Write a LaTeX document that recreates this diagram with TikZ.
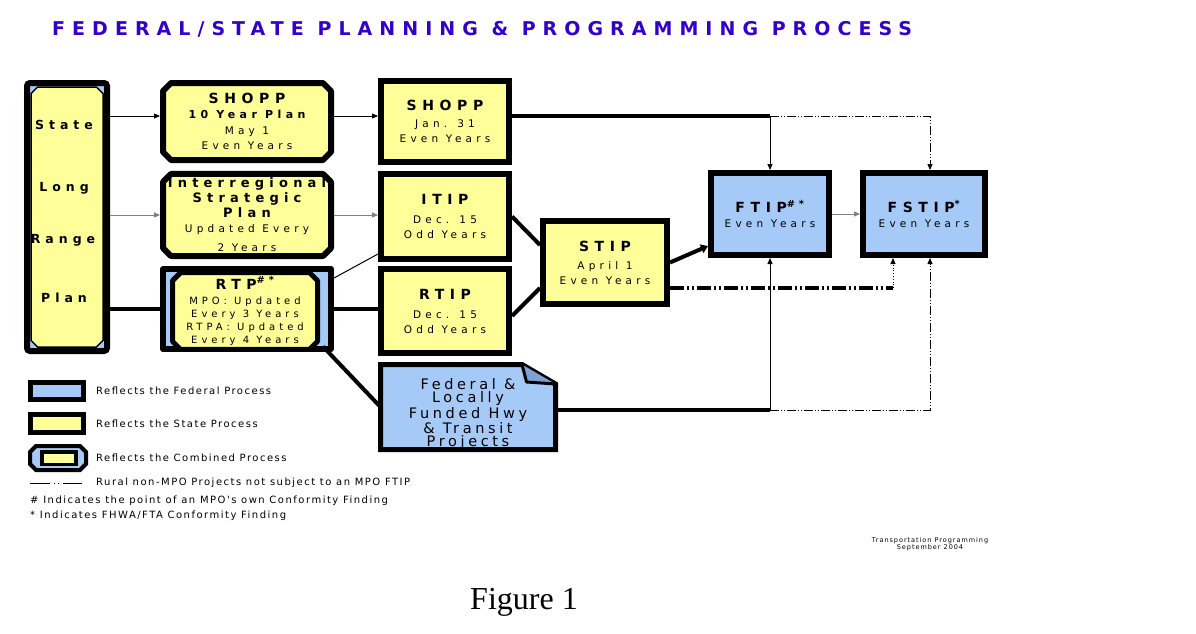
\documentclass[tikz,border=0pt]{standalone}
\usepackage{fontspec}
\setmainfont{DejaVu Sans}[LetterSpace=40]
\newfontfamily\titlefont{DejaVu Sans}[LetterSpace=37]
\newfontfamily\fedfont{DejaVu Sans}[LetterSpace=25]
\newfontfamily\legfont{DejaVu Sans}[LetterSpace=15]
\newfontfamily\figfont{Liberation Serif}
\usetikzlibrary{shapes.misc,arrows.meta,positioning,backgrounds}

\definecolor{yelfill}{RGB}{255,255,153}
\definecolor{bluefill}{RGB}{166,202,247}
\definecolor{folddark}{RGB}{128,160,212}
\definecolor{titleblue}{RGB}{51,0,204}

\newcommand\fhead{\fontsize{14}{15}\selectfont\bfseries}
\newcommand\fsub{\fontsize{11}{15}\selectfont\bfseries}
\newcommand\fbody{\fontsize{10.5}{15}\selectfont}

\begin{document}
\begin{tikzpicture}[x=1pt, y=-1pt,
  stbox/.style={draw, line width=6pt, fill=yelfill, minimum width=128pt, align=center, inner sep=0pt, font=\fbody},
  chambox/.style={draw, line width=6pt, chamfered rectangle, chamfered rectangle xsep=4pt, chamfered rectangle ysep=4pt, line join=round, align=center, inner sep=0pt, minimum width=168pt, font=\fbody},
  slrptext/.style={font=\fontsize{12.5}{14}\selectfont\bfseries, inner sep=0pt},
  legtext/.style={font=\legfont\fontsize{10}{12}\selectfont, inner sep=0pt, anchor=west},
  link/.style={line width=1pt, -{Triangle[length=6pt,width=5pt]}},
  graylink/.style={link, draw=black!50},
  heavy/.style={line width=4pt},
  heavyarrow/.style={heavy, -{Triangle[length=7pt,width=9pt]}},
  rural/.style={line width=0.8pt, dash pattern=on 9pt off 2pt on 1pt off 2pt on 1pt off 2pt},
  ruralarrow/.style={rural, -{Triangle[length=6pt,width=5pt]}},
  heavydash/.style={line width=4.5pt, dash pattern=on 14pt off 3pt on 2pt off 3pt on 2pt off 3pt}
]
\useasboundingbox (0,0) rectangle (1196,634);
\begin{scope}[on background layer]
\fill[white] (0,0) rectangle (1196,634);
\end{scope}

\node[font=\titlefont\fontsize{19}{21}\selectfont\bfseries, text=titleblue, anchor=west, inner sep=0pt] (title) at (52,29) {FEDERAL/STATE PLANNING \& PROGRAMMING PROCESS};

% state long range plan
\node[draw, line width=6pt, rounded corners=3pt, fill=bluefill, minimum width=80pt, minimum height=268pt] (slrp) at (67,217) {};
\node[draw, line width=1.5pt, chamfered rectangle, chamfered rectangle xsep=4pt, chamfered rectangle ysep=4pt, fill=yelfill, minimum width=72pt, minimum height=260pt] (slrpin) at (67,217) {};
\node[slrptext] (slrp1) at (64,125) {State};
\node[slrptext] (slrp2) at (64,188) {Long};
\node[slrptext] (slrp3) at (63,240) {Range};
\node[slrptext] (slrp4) at (64,298) {Plan};

% plans
\node[chambox, fill=yelfill, minimum height=77pt] (shopp10) at (247,121.5) {{\fhead SHOPP}\\{\fsub 10 Year Plan}\\[1pt] May 1\\ Even Years};
\node[chambox, fill=yelfill, minimum height=80pt] (isp) at (247,215) {{\fontsize{13}{15}\selectfont\bfseries Interregional}\\{\fontsize{13}{15}\selectfont\bfseries Strategic}\\{\fontsize{13}{15}\selectfont\bfseries Plan}\\ Updated Every\\[4pt] 2 Years};
\node[chambox, fill=bluefill, minimum height=80pt] (rtp) at (247,309) {};
\node[chambox, fill=yelfill, line width=5pt, minimum width=145pt, minimum height=65pt, font=\fontsize{10}{13}\selectfont] (rtpin) at (245,311) {{\fontsize{14}{13}\selectfont\bfseries RTP\textsuperscript{\#*}}\\[2pt] MPO: Updated\\ Every 3 Years\\ RTPA: Updated\\ Every 4 Years};

% programs
\node[stbox, minimum height=81pt] (shoppj) at (445,121.5) {{\fhead SHOPP}\\[2pt] Jan. 31\\ Even Years};
\node[stbox, minimum height=85pt] (itip) at (445,216.5) {{\fhead ITIP}\\[4pt] Dec. 15\\ Odd Years};
\node[stbox, minimum height=84pt] (rtip) at (445,311) {{\fhead RTIP}\\[4pt] Dec. 15\\ Odd Years};
\node[stbox, minimum width=124pt, minimum height=83pt] (stip) at (605,262.5) {{\fhead STIP}\\[3pt] April 1\\ Even Years};
\node[stbox, fill=bluefill, minimum width=118pt, minimum height=82pt] (ftip) at (770,214) {{\fhead FTIP\textsuperscript{\#*}}\\ Even Years};
\node[stbox, fill=bluefill, minimum width=122pt, minimum height=82pt] (fstip) at (924,214) {{\fhead FSTIP\textsuperscript{*}}\\ Even Years};

% federal and locally funded projects
\node[inner sep=0pt, outer sep=0pt, minimum width=175pt, minimum height=85pt] (fed) at (468,407) {};
\begin{scope}[on background layer]
\draw[line width=5pt, fill=bluefill, line join=miter] (fed.south west) -- (fed.north west) -- ([xshift=-33.5pt]fed.north east) -- ([yshift=-19.5pt]fed.north east) -- (fed.south east) -- cycle;
\draw[line width=3pt, fill=folddark, line join=round] ([xshift=-33.5pt]fed.north east) -- ([xshift=-29pt,yshift=-17.5pt]fed.north east) -- ([yshift=-19.5pt]fed.north east);
\end{scope}
\node[align=center, inner sep=0pt, font=\fedfont\fontsize{14.5}{13.5}\selectfont] (fedtx) at ([yshift=-7pt]fed.center) {Federal \&\\ Locally\\ Funded Hwy\\ \& Transit\\ Projects};

% connectors
\coordinate (shoppin) at ([yshift=5.5pt]shopp10.west);
\coordinate (shoppout) at ([yshift=5.5pt]shopp10.east);
\coordinate (shoppjin) at ([yshift=5.5pt]shoppj.west);
\coordinate (shoppjout) at ([yshift=5.5pt]shoppj.east);
\draw[link] (slrp.east |- shoppin) -- (shoppin);
\draw[graylink] (slrp.east |- isp.west) -- (isp.west);
\draw[heavy] (slrp.east |- rtp.west) -- (rtp.west);
\draw[link] (shoppout) -- (shoppjin);
\draw[graylink] (isp.east) -- (isp.east -| itip.west);
\draw[line width=1pt] ([yshift=31pt]rtp.east) -- ([yshift=8pt]itip.south west);
\draw[heavy] (rtp.east) -- (rtp.east -| rtip.west);
\draw[heavy] ([xshift=-8pt,yshift=4pt]rtp.south east) -- (fed.west);
\draw[heavy] (itip.east) -- ([yshift=17.5pt]stip.west);
\draw[heavy] ([yshift=-5pt]rtip.east) -- ([yshift=-25.5pt]stip.west);
\draw[heavyarrow] (stip.east) -- ([yshift=-32pt]ftip.west);

\coordinate (topjn) at (ftip.north |- shoppjout);
\coordinate (fstop) at ([xshift=6pt]fstip.north);
\draw[heavy] (shoppjout) -- (topjn);
\draw[link] (topjn) -- (ftip.north);
\draw[ruralarrow] (topjn) -| (fstop);

\coordinate (stipdn) at ([yshift=-25.5pt]stip.east);
\coordinate (fsleft) at ([xshift=-31pt]fstip.south);
\draw[heavydash] (stipdn) -- (stipdn -| fsleft);
\draw[line width=0.8pt, dotted, -{Triangle[length=6pt,width=5pt]}] (stipdn -| fsleft) -- (fsleft);

\coordinate (fedout) at ([yshift=-3pt]fed.east);
\coordinate (botjn) at (ftip.south |- fedout);
\coordinate (fsbot) at ([xshift=6pt]fstip.south);
\draw[heavy] (fedout) -- (botjn);
\draw[link] (botjn) -- (ftip.south);
\draw[ruralarrow] (botjn) -| (fsbot);
\draw[graylink] (ftip.east) -- (fstip.west);

% legend
\node[draw, line width=5pt, fill=bluefill, minimum width=53pt, minimum height=17pt] (lgfed) at (57,391) {};
\node[draw, line width=5pt, fill=yelfill, minimum width=53pt, minimum height=18pt] (lgst) at (57,423.5) {};
\node[draw, line width=4pt, fill=bluefill, chamfered rectangle, chamfered rectangle xsep=3pt, chamfered rectangle ysep=3pt, minimum width=56pt, minimum height=24pt] (lgcomb) at (58,458) {};
\node[draw, line width=3.5pt, fill=yelfill, minimum width=34pt, minimum height=12.5pt] (lgcombin) at (59,458) {};
\coordinate (lgrurala) at (30,483);
\coordinate (lgruralb) at (82,483);
\draw[line width=0.8pt, dash pattern=on 20pt off 4pt on 1pt off 3pt on 1pt off 4pt] (lgrurala) -- (lgruralb);
\node[legtext, right=10pt of lgfed] (lgfedtx) {Reflects the Federal Process};
\node[legtext, right=10pt of lgst] (lgsttx) {Reflects the State Process};
\node[legtext, right=8pt of lgcomb] (lgcombtx) {Reflects the Combined Process};
\node[legtext, right=14pt of lgruralb] (lgruraltx) {Rural non-MPO Projects not subject to an MPO FTIP};
\node[legtext] (lgmpo) at (30,501) {\# Indicates the point of an MPO's own Conformity Finding};
\node[legtext] (lgfhwa) at (30,516) {* Indicates FHWA/FTA Conformity Finding};

\node[align=center, inner sep=0pt, font=\legfont\fontsize{6.5}{7.5}\selectfont] (footer) at (930,544) {Transportation Programming\\September 2004};
\node[inner sep=0pt, font=\figfont\fontsize{32}{34}\selectfont] (fig) at (524,602) {Figure 1};
\end{tikzpicture}
\end{document}
